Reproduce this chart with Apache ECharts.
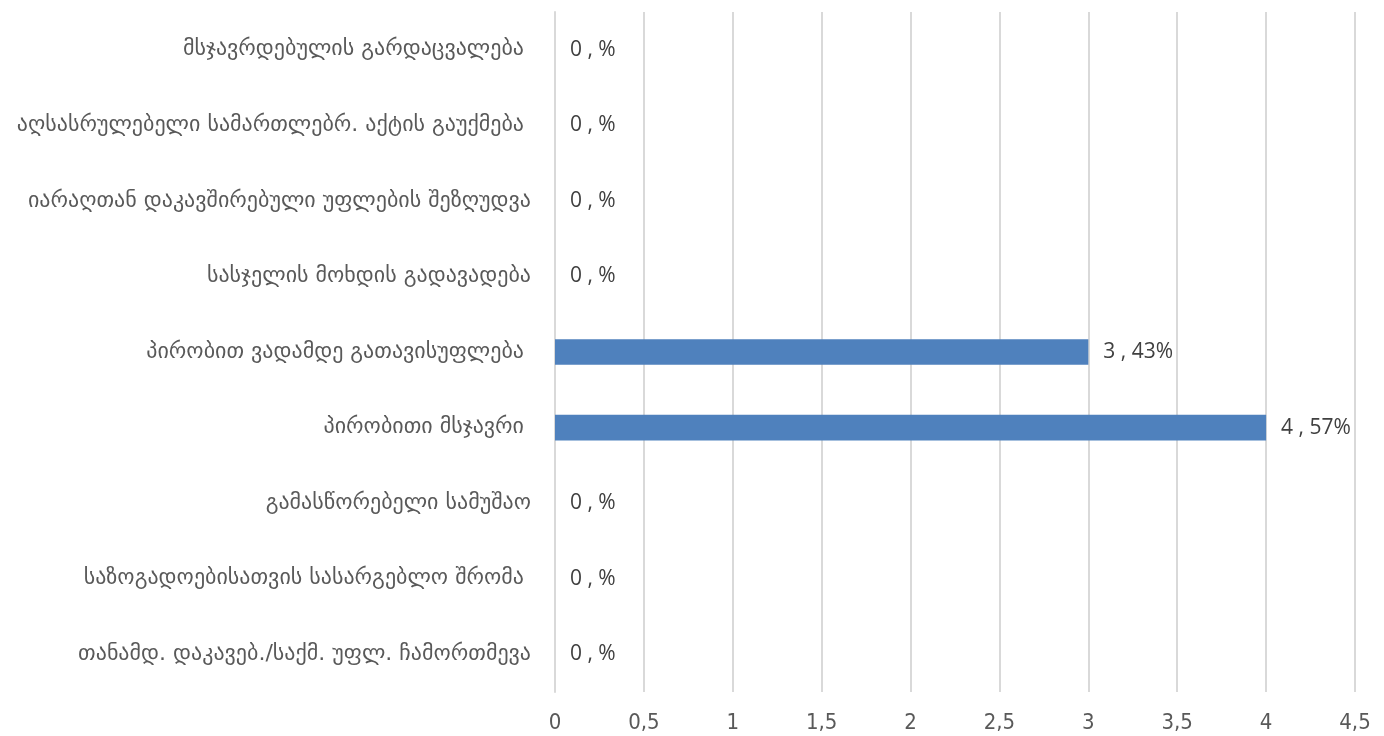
<!DOCTYPE html>
<html><head><meta charset="utf-8">
<script src="https://cdn.jsdelivr.net/npm/echarts@6/dist/echarts.min.js"></script>
<style>html,body{margin:0;padding:0;background:#fff}#c{width:1384px;height:736px}</style>
</head><body><div id="c"></div>
<script>
// categories listed top to bottom
const categories = [
  "მსჯავრდებულის გარდაცვალება ",
  "აღსასრულებელი სამართლებრ. აქტის გაუქმება ",
  "იარაღთან დაკავშირებული უფლების შეზღუდვა",
  "სასჯელის მოხდის გადავადება",
  "პირობით ვადამდე გათავისუფლება ",
  "პირობითი მსჯავრი ",
  "გამასწორებელი სამუშაო",
  "საზოგადოებისათვის სასარგებლო შრომა ",
  "თანამდ. დაკავებ./საქმ. უფლ. ჩამორთმევა"
];
const values = [0, 0, 0, 0, 3, 4, 0, 0, 0];
const valueLabels = ["0 , %", "0 , %", "0 , %", "0 , %", "3 , 43%", "4 , 57%", "0 , %", "0 , %", "0 , %"];
const xTicks = [0, 0.5, 1, 1.5, 2, 2.5, 3, 3.5, 4, 4.5];

const chart = echarts.init(document.getElementById('c'));
chart.setOption({
  animation: false,
  textStyle: {fontFamily: "'Noto Sans', 'DejaVu Sans', sans-serif"},
  grid: {left: 555, right: 29, top: 12, bottom: 44, containLabel: false},
  xAxis: {
    type: 'value', min: 0, max: 4.5, interval: 0.5,
    axisLine: {show: false}, axisTick: {show: false},
    splitLine: {show: true, lineStyle: {color: '#d9d9d9', width: 2}},
    axisLabel: {color: '#595959', fontSize: 22, margin: 20,
      fontFamily: "'Liberation Sans Narrow', 'DejaVu Sans Condensed', sans-serif",
      formatter: v => String(v).replace('.', ',')}
  },
  yAxis: {
    type: 'category', data: categories, inverse: true,
    axisLine: {show: true, lineStyle: {color: '#d9d9d9', width: 2}},
    axisTick: {show: false},
    axisLabel: {color: '#595959', fontSize: 22, margin: 24,
      fontFamily: "'DejaVu Sans', 'Noto Sans', sans-serif"}
  },
  series: [{
    type: 'bar', data: values, barWidth: '34%',
    itemStyle: {color: '#4f81bd'},
    label: {show: true, position: 'right', distance: 15, color: '#404040', fontSize: 21,
      fontFamily: "'Open Sans', 'DejaVu Sans', sans-serif",
      formatter: p => valueLabels[p.dataIndex]}
  }]
});
</script></body></html>
